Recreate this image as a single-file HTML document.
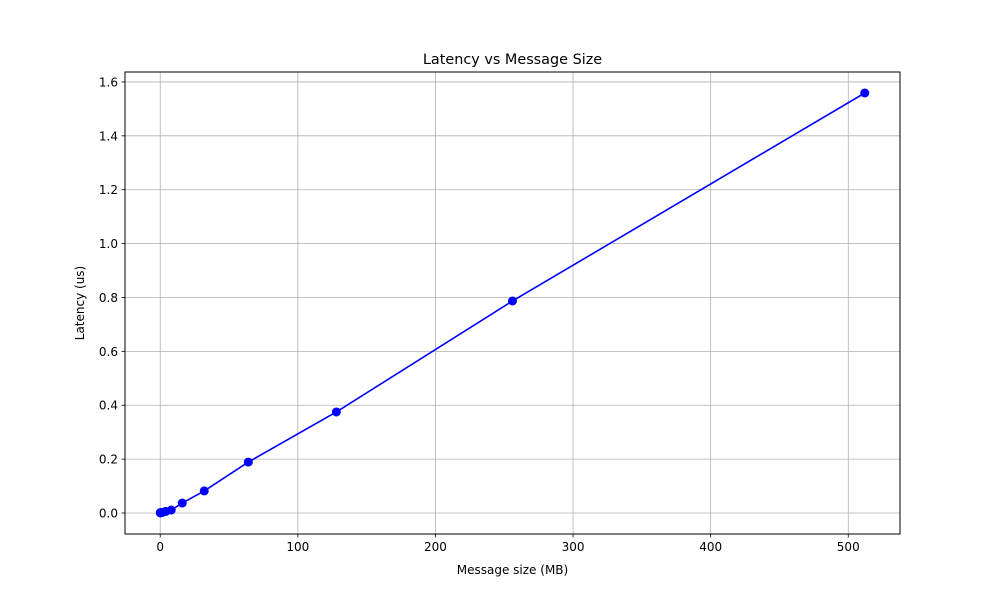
<!DOCTYPE html>
<html><head><meta charset="utf-8"><style>
body{margin:0;background:#fff;font-family:"Liberation Sans","DejaVu Sans",sans-serif}
svg text{font-family:"DejaVu Sans","Liberation Sans",sans-serif;font-size:12px;fill:#000}
</style></head><body>
<svg id="chart" width="1000" height="600">
<rect width="1000" height="600" fill="#fff"/>
<g id="grid"></g>
<g id="axes"></g>
<g id="series"></g>
<rect x="125" y="72" width="775" height="462" fill="none" stroke="#000" stroke-width="1"/>
<text x="512.5" y="64" text-anchor="middle" style="font-size:14.4px">Latency vs Message Size</text>
<text x="512.5" y="574" text-anchor="middle">Message size (MB)</text>
<text x="84" y="303" text-anchor="middle" transform="rotate(-90 84 303)">Latency (us)</text>
</svg>
<script>
const sizes=[0.0625,0.125,0.25,0.5,1,2,4,8,16,32,64,128,256,512];
const latency=[0.0005,0.0008,0.001,0.0015,0.002,0.003,0.006,0.011,0.037,0.082,0.189,0.375,0.787,1.559];
const xTicks=[0,100,200,300,400,500];
const yTicks=[0.0,0.2,0.4,0.6,0.8,1.0,1.2,1.4,1.6];
const L=125,R=900,T=72,B=534;
const xmin=-25.6,xmax=537.6;
const ymaxD=Math.max(...latency),ymin=-0.05*ymaxD,ymax=ymaxD*1.05;
const sx=v=>L+(v-xmin)/(xmax-xmin)*(R-L);
const sy=v=>B-(v-ymin)/(ymax-ymin)*(B-T);
const NS="http://www.w3.org/2000/svg";
function mk(tag,attrs,parent){const e=document.createElementNS(NS,tag);for(const k in attrs)e.setAttribute(k,attrs[k]);parent.appendChild(e);return e;}
const grid=document.getElementById('grid'),axes=document.getElementById('axes'),ser=document.getElementById('series');
xTicks.forEach(t=>{const x=sx(t);
 const g=mk('line',{x1:x,x2:x,y1:T,y2:B,stroke:'#b0b0b0','stroke-width':0.8},grid);
 
 
 const tk=mk('line',{x1:x,x2:x,y1:B,y2:B+3.5,stroke:'#000','stroke-width':0.8},axes);
 
 
 const tx=mk('text',{x:x,y:B+17,'text-anchor':'middle'},axes);tx.textContent=t;
 
 
});
yTicks.forEach(t=>{const y=sy(t);
 const g=mk('line',{x1:L,x2:R,y1:y,y2:y,stroke:'#b0b0b0','stroke-width':0.8},grid);
 
 
 const tk=mk('line',{x1:L-3.5,x2:L,y1:y,y2:y,stroke:'#000','stroke-width':0.8},axes);
 
 
 const tx=mk('text',{x:L-7,y:y+4.5,'text-anchor':'end'},axes);tx.textContent=t.toFixed(1);
 
 
});
const pts=sizes.map((s,i)=>sx(s)+','+sy(latency[i])).join(' ');
const pl=mk('polyline',{points:pts,fill:'none',stroke:'#0000ff','stroke-width':1.6},ser);


sizes.forEach((s,i)=>{const c=mk('circle',{cx:sx(s),cy:sy(latency[i]),r:4.5,fill:'#0000ff'},ser);
 
 
});
</script>
</body></html>
